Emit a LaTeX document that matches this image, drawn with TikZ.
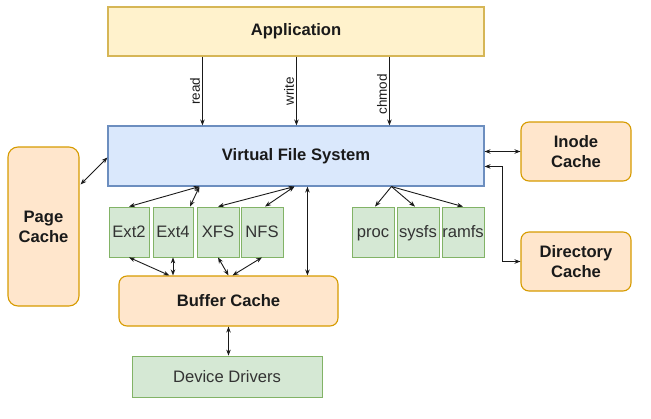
\documentclass[tikz,border=0pt]{standalone}
\usepackage{fontspec}
\setmainfont{Liberation Sans}
\usetikzlibrary{arrows.meta,calc}
\definecolor{appfill}{HTML}{FFF2CC}\definecolor{appline}{HTML}{D6B656}
\definecolor{vfsfill}{HTML}{DAE8FC}\definecolor{vfsline}{HTML}{6C8EBF}
\definecolor{orfill}{HTML}{FFE6CC}\definecolor{orline}{HTML}{D79B00}
\definecolor{grfill}{HTML}{D5E8D4}\definecolor{grline}{HTML}{82B366}
\definecolor{txt}{HTML}{1A1A1A}
\begin{document}
\begin{tikzpicture}[x=1pt,y=-1pt,
  box/.style={draw,line width=1.1pt,inner sep=0pt,align=center,text=txt},
  appbox/.style={box,fill=appfill,draw=appline,font=\fontsize{16.6}{20}\selectfont\bfseries},
  vfsbox/.style={box,fill=vfsfill,draw=vfsline,font=\fontsize{16.6}{20}\selectfont\bfseries},
  cachebox/.style={box,fill=orfill,draw=orline,rounded corners=8pt,font=\fontsize{16.6}{20}\selectfont\bfseries},
  fsbox/.style={box,fill=grfill,draw=grline,line width=0.8pt,text=black!80,text height=11.6pt,text depth=0pt,font=\fontsize{16.6}{20}\selectfont},
  conn/.style={line width=0.9pt,txt},
  dbl/.style={conn,{Stealth[length=6pt,width=4.5pt]}-{Stealth[length=6pt,width=4.5pt]}},
  sgl/.style={conn,-{Stealth[length=6pt,width=4.5pt]}},
  lab/.style={midway,rotate=90,anchor=south,inner sep=2pt,font=\fontsize{13.5}{16}\selectfont,text=txt}
]
\useasboundingbox (0,0) rectangle (651,418);

\node[appbox,minimum width=376pt,minimum height=49pt] (app) at (296,31.5) {Application};
\node[vfsbox,minimum width=376pt,minimum height=60pt] (vfs) at (296,156) {Virtual File System};
\node[cachebox,rounded corners=10pt,minimum width=71pt,minimum height=159pt] (page) at (43.5,226.5) {Page\\Cache};
\node[cachebox,minimum width=110pt,minimum height=59pt] (inode) at (576,151.5) {Inode\\Cache};
\node[cachebox,minimum width=110pt,minimum height=59pt] (dir) at (576,261.5) {Directory\\Cache};
\node[cachebox,minimum width=219pt,minimum height=50pt] (buf) at (228.5,301) {Buffer Cache};
\node[fsbox,minimum width=190pt,minimum height=41pt] (dev) at (227,376.5) {Device Drivers};

\node[fsbox,minimum width=40pt,minimum height=50pt] (ext2) at (129,232) {Ext2};
\node[fsbox,minimum width=40pt,minimum height=50pt] (ext4) at (173,232) {Ext4};
\node[fsbox,minimum width=42pt,minimum height=50pt] (xfs) at (218,232) {XFS};
\node[fsbox,minimum width=42pt,minimum height=50pt] (nfs) at (262,232) {NFS};
\node[fsbox,minimum width=42pt,minimum height=50pt] (proc) at (373,232) {proc};
\node[fsbox,minimum width=42pt,minimum height=50pt] (sysfs) at (418,232) {sysfs};
\node[fsbox,minimum width=42pt,minimum height=50pt] (ramfs) at (463,232) {ramfs};

% application -> vfs
\draw[sgl] ($(app.south west)+(95,0)$) -- node[lab]{read} ($(vfs.north west)+(95,0)$);
\draw[sgl] ($(app.south west)+(189,0)$) -- node[lab]{write} ($(vfs.north west)+(189,0)$);
\draw[sgl] ($(app.south west)+(282,0)$) -- node[lab,pos=0.55]{chmod} ($(vfs.north west)+(282,0)$);

% page cache
\draw[dbl] ($(page.north east)+(1,38)$) -- ($(vfs.north west)+(0,32)$);

% vfs to file systems
\coordinate (va) at ($(vfs.south west)+(92,0)$);
\coordinate (vb) at ($(vfs.south west)+(187,0)$);
\coordinate (vc) at ($(vfs.south west)+(200,0)$);
\coordinate (vd) at ($(vfs.south west)+(284,0)$);
\draw[dbl] (va) -- (ext2.north);
\draw[dbl] (va) -- ($(ext4.north)+(17,0)$);
\draw[dbl] (vb) -- (xfs.north);
\draw[dbl] (vb) -- ($(nfs.north)+(3,0)$);
\draw[dbl] (vc) -- (vc |- buf.north);
\draw[sgl] (vd) -- ($(proc.north)+(2,0)$);
\draw[sgl] (vd) -- ($(sysfs.north)+(-3,0)$);
\draw[sgl] (vd) -- (ramfs.north);

% file systems to buffer cache
\draw[dbl] (ext2.south) -- ($(buf.north west)+(51,0)$);
\draw[dbl] (ext4.south) -- (ext4.south |- buf.north);
\draw[dbl] (xfs.south) -- (buf.north);
\draw[dbl] (nfs.south) -- ($(buf.north)+(4,0)$);

% buffer to device drivers
\draw[dbl] (buf.south) -- (buf.south |- dev.north);

% inode and directory cache
\draw[dbl] (inode.west -| vfs.east) -- (inode.west);
\coordinate (de) at ($(vfs.north east)+(0,41)$);
\draw[dbl] (de) -- ++(18,0) |- (dir.west);
\end{tikzpicture}
\end{document}
